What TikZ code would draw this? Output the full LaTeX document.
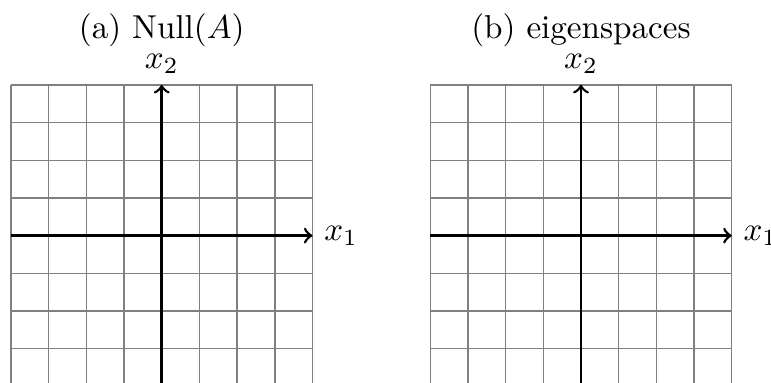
\documentclass[tikz,border=0pt]{standalone}
\usepackage{amsmath}
\usepackage{amssymb}
\usepackage{tikz}
\usepackage{xcolor}

\tikzset{
  gridline/.style={gray, thin, step=0.4cm},
  axisline/.style={black, thick, ->},
}

\begin{document}
\begin{tikzpicture}[x=0.4cm, y=0.4cm]
\useasboundingbox (-4.29,-3.89) rectangle (16.16,6.25);
\clip (-4.29,-3.89) rectangle (16.16,6.25);

% (a) left panel
\begin{scope}
\draw[gridline] (-4,-4) grid (4,4);
\coordinate (Ax0) at (-4,0);
\coordinate (Ax1) at (4,0);
\coordinate (Ay0) at (0,-4);
\coordinate (Ay1) at (0,4);
\draw[axisline] (Ax0) -- (Ax1);
\draw[axisline] (Ay0) -- (Ay1);
\node[right] (Alabx) at (Ax1) {$x_1$};
\node[above] (Alaby) at (Ay1) {$x_2$};
\node[anchor=base] (Atitle) at (0,5.22) {(a) Null$(A)$};
\end{scope}

% (b) right panel
\begin{scope}[shift={(11.12,0)}]
\draw[gridline] (-4,-4) grid (4,4);
\coordinate (Bx0) at (-4,0);
\coordinate (Bx1) at (4,0);
\coordinate (By0) at (0,-4);
\coordinate (By1) at (0,4);
\draw[axisline] (Bx0) -- (Bx1);
\draw[axisline] (By0) -- (By1);
\node[right] (Blabx) at (Bx1) {$x_1$};
\node[above] (Blaby) at (By1) {$x_2$};
\node[anchor=base] (Btitle) at (0,5.22) {(b) eigenspaces};
\end{scope}
\end{tikzpicture}
\end{document}
